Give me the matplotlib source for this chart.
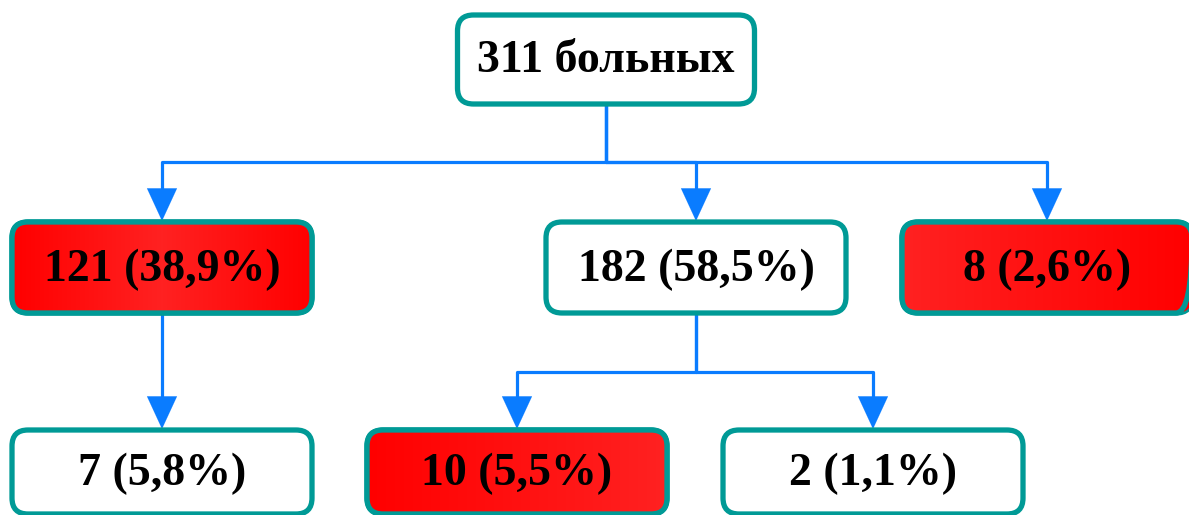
import numpy as np
import matplotlib
matplotlib.use('Agg')
import matplotlib.pyplot as plt
from matplotlib.patches import FancyBboxPatch

# Распределение больных по группам
counts = [311, 121, 182, 8, 7, 10, 2]
parents = [None, 0, 0, 0, 1, 2, 2]
percents = [None, 38.9, 58.5, 2.6, 5.8, 5.5, 1.1]
highlight = [False, True, False, True, False, True, False]

# Подписи блоков
labels = []
for n, p in zip(counts, percents):
    if p is None:
        labels.append(f"{n} больных")
    else:
        labels.append(f"{n} ({p:.1f}%)".replace('.', ','))

# Раскладка блоков в пикселях: центр x, верх, ширина, высота, градиент
layout = [
    (606, 15, 297, 89, None),
    (162, 222, 300, 91, 'mirror'),
    (696, 222, 300, 91, None),
    (1047, 222, 290, 91, 'rev'),
    (162, 430, 300, 84, None),
    (517, 430, 300, 84, 'lin'),
    (873, 430, 300, 84, None),
]
bus_y = {0: 162, 2: 372}

teal = '#009a96'
blue = '#0a7cff'

fig = plt.figure(figsize=(11.89, 5.15), dpi=100)
ax = fig.add_axes([0, 0, 1, 1])
ax.set_xlim(0, 1189)
ax.set_ylim(515, 0)
ax.axis('off')

rad = 16


def rounded(x0, top, w, h, **kw):
    return FancyBboxPatch((x0 + rad, top + rad), w - 2 * rad, h - 2 * rad,
                          boxstyle=f"round,pad={rad},rounding_size={rad}", **kw)


for i, (cx, top, w, h, grad) in enumerate(layout):
    x0 = cx - w / 2
    ax.add_patch(rounded(x0, top, w, h, facecolor='white', edgecolor=teal,
                         linewidth=3.8, zorder=2))
    if highlight[i]:
        t = np.linspace(0, 1, 256)
        if grad == 'mirror':
            t = 1 - np.abs(2 * t - 1)
        elif grad == 'rev':
            t = 1 - t
        g = 0.13 * t
        img = np.zeros((2, 256, 3))
        img[..., 0] = 1.0
        img[..., 1] = g
        img[..., 2] = g
        im = ax.imshow(img, extent=(x0, x0 + w, top + h, top), aspect='auto',
                       zorder=2.5, interpolation='bilinear')
        clip = rounded(x0, top, w, h, facecolor='none', edgecolor='none',
                       transform=ax.transData)
        im.set_clip_path(clip)
        ax.add_patch(rounded(x0, top, w, h, facecolor='none', edgecolor=teal,
                             linewidth=3.8, zorder=3))
    ax.text(cx, top + h / 2 + 2, labels[i], ha='center', va='center',
            fontsize=33, fontweight='bold', family='Liberation Serif',
            color='black', zorder=4)

# Соединительные линии и стрелки
head = 24
arrow = dict(arrowstyle='-|>,head_length=1.3,head_width=0.6', color=blue,
             lw=0.1, shrinkA=0, shrinkB=0, mutation_scale=18)
for k, p in enumerate(parents):
    if p is None:
        continue
    pcx, ptop, pw, ph, _ = layout[p]
    kx, ktop = layout[k][0], layout[k][1]
    yb = bus_y.get(p)
    if yb is None:
        path_x = [pcx, kx]
        path_y = [ptop + ph, ktop - head + 2]
    else:
        path_x = [pcx, pcx, kx, kx]
        path_y = [ptop + ph, yb, yb, ktop - head + 2]
    ax.plot(path_x, path_y, color=blue, lw=2.3, zorder=1,
            solid_joinstyle='round', solid_capstyle='butt')
    ax.annotate('', xy=(kx, ktop - 1), xytext=(kx, ktop - head),
                arrowprops=arrow, zorder=1)

fig.savefig('out.png', dpi=100)
